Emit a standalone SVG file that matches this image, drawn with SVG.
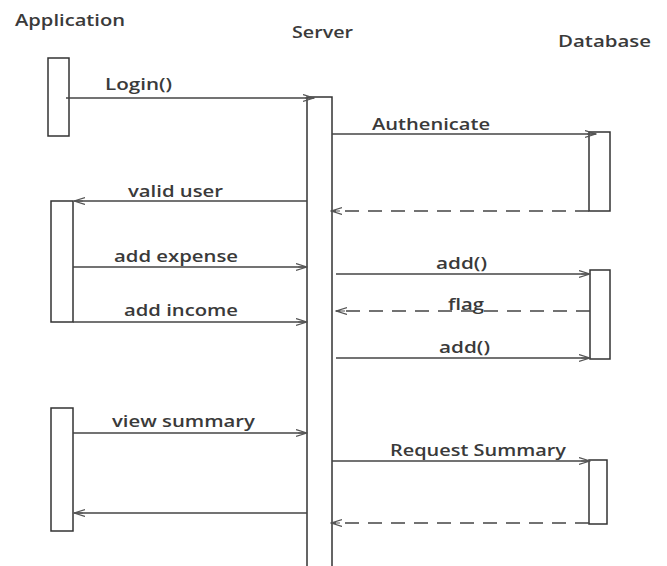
<svg xmlns="http://www.w3.org/2000/svg" width="667" height="566" viewBox="0 0 667 566">
<style>
  .bg{fill:#ffffff}
  .box{fill:#ffffff;stroke:#333333;stroke-width:1.5}
  .title{font-family:"Open Sans","Liberation Sans",sans-serif;font-size:16px;font-weight:600;fill:#3a3a3a}
  .lbl{font-family:"Open Sans","Liberation Sans",sans-serif;font-size:16px;font-weight:600;fill:#3a3a3a}
  .msg{stroke:#444444;stroke-width:1.3;fill:none;marker-end:url(#arr)}
  .ret{stroke:#444444;stroke-width:1.3;fill:none;stroke-dasharray:14 9;marker-end:url(#arr)}
</style>
<defs>
  <marker id="arr" markerWidth="12" markerHeight="10" refX="11" refY="4" orient="auto" markerUnits="userSpaceOnUse">
    <path d="M0,0.5 L11,4 L0,7.5 M2,4 L11,4" fill="none" stroke="#555555" stroke-width="1.2"/>
  </marker>
</defs>
<rect class="bg" x="0" y="0" width="667" height="566"/>

<g id="application">
  <text class="title" x="15" y="26" textLength="110" lengthAdjust="spacingAndGlyphs">Application</text>
  <rect class="box" x="48" y="58" width="21" height="78"/>
  <rect class="box" x="51" y="201" width="22" height="121"/>
  <rect class="box" x="51" y="408" width="22" height="123"/>
</g>

<g id="server">
  <text class="title" x="292" y="38" textLength="61" lengthAdjust="spacingAndGlyphs">Server</text>
  <rect class="box" x="307" y="97" width="25" height="475"/>
</g>

<g id="database">
  <text class="title" x="558" y="47" textLength="93" lengthAdjust="spacingAndGlyphs">Database</text>
  <rect class="box" x="589" y="132" width="21" height="79"/>
  <rect class="box" x="590" y="270" width="20" height="89"/>
  <rect class="box" x="589" y="460" width="18" height="64"/>
</g>

<g id="connectors">
  <g id="m-login">
    <line class="msg" x1="66" y1="98" x2="314" y2="98"/>
    <text class="lbl" x="105" y="90" textLength="67" lengthAdjust="spacingAndGlyphs">Login()</text>
  </g>
  <g id="m-auth">
    <line class="msg" x1="332" y1="134" x2="596" y2="134"/>
    <text class="lbl" x="372" y="130" textLength="118" lengthAdjust="spacingAndGlyphs">Authenicate</text>
  </g>
  <g id="m-auth-ret">
    <line class="ret" x1="589" y1="211" x2="331" y2="211"/>
  </g>
  <g id="m-valid">
    <line class="msg" x1="307" y1="201" x2="74" y2="201"/>
    <text class="lbl" x="128" y="197" textLength="95" lengthAdjust="spacingAndGlyphs">valid user</text>
  </g>
  <g id="m-expense">
    <line class="msg" x1="73" y1="267" x2="307" y2="267"/>
    <text class="lbl" x="114" y="262" textLength="124" lengthAdjust="spacingAndGlyphs">add expense</text>
  </g>
  <g id="m-add1">
    <line class="msg" x1="336" y1="274" x2="590" y2="274"/>
    <text class="lbl" x="436" y="269" textLength="51" lengthAdjust="spacingAndGlyphs">add()</text>
  </g>
  <g id="m-flag">
    <line class="ret" x1="590" y1="311" x2="336" y2="311"/>
    <text class="lbl" x="448" y="310" textLength="36" lengthAdjust="spacingAndGlyphs">flag</text>
  </g>
  <g id="m-income">
    <line class="msg" x1="73" y1="322" x2="307" y2="322"/>
    <text class="lbl" x="124" y="316" textLength="114" lengthAdjust="spacingAndGlyphs">add income</text>
  </g>
  <g id="m-add2">
    <line class="msg" x1="336" y1="358" x2="590" y2="358"/>
    <text class="lbl" x="439" y="353" textLength="51" lengthAdjust="spacingAndGlyphs">add()</text>
  </g>
  <g id="m-view">
    <line class="msg" x1="73" y1="433" x2="307" y2="433"/>
    <text class="lbl" x="112" y="427" textLength="143" lengthAdjust="spacingAndGlyphs">view summary</text>
  </g>
  <g id="m-request">
    <line class="msg" x1="332" y1="461" x2="590" y2="461"/>
    <text class="lbl" x="390" y="456" textLength="176" lengthAdjust="spacingAndGlyphs">Request Summary</text>
  </g>
  <g id="m-request-ret">
    <line class="ret" x1="589" y1="523" x2="331" y2="523"/>
  </g>
  <g id="m-summary-ret">
    <line class="msg" x1="307" y1="513" x2="74" y2="513"/>
  </g>
</g>
</svg>
